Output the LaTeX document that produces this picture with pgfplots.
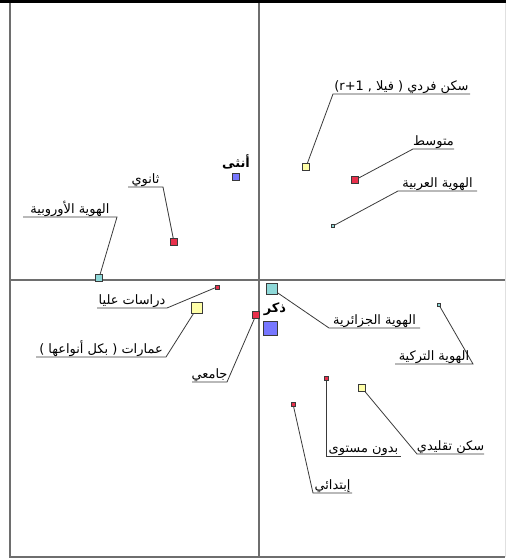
\documentclass[border=0pt]{standalone}
\usepackage{fontspec}
\usepackage{pgfplots}
\pgfplotsset{compat=1.18}
\setmainfont{Liberation Sans}
\newfontfamily\ar[Script=Arabic]{DejaVu Sans}
\TeXXeTstate=1

\definecolor{frame}{HTML}{6E6E6E}
\definecolor{leadc}{HTML}{3A3A3A}
\definecolor{cblue}{HTML}{7777FF}
\definecolor{cred}{HTML}{E8304C}
\definecolor{cteal}{HTML}{8ED8D8}
\definecolor{cyel}{HTML}{FFFFA8}

\tikzset{
  lab/.style={font=\ar\fontsize{13}{15}\selectfont, anchor=base, inner sep=0pt},
  labb/.style={font=\ar\bfseries\fontsize{13}{15}\selectfont, anchor=base, inner sep=0pt},
}

% marker groups: x, y, half side
\pgfplotstableread{
x y s
-23 103 3.5
11 -48 7
}\blues
\pgfplotstableread{
x y s
-85 38 3.5
96 100 3.5
-3 -35 3.5
-42 -7 2
67 -98 2
34 -124 2
}\reds
\pgfplotstableread{
x y s
-160 2 3.5
74 54 1.5
13 -9 5.5
180 -25 1.5
}\teals
\pgfplotstableread{
x y s
47 113 3.5
-62 -28 5.5
103 -108 3.5
}\yellows

\begin{document}
\begin{tikzpicture}
\begin{axis}[
  width=506bp, height=558bp, scale only axis,
  xmin=-259, xmax=247, ymin=-278, ymax=280,
  hide axis, clip=false,
  leader/.style={leadc, line width=0.8bp, no marks},
  pts/.style={scatter, only marks, mark=square*,
    scatter/use mapped color={draw=leadc, fill=#1, line width=0.6bp},
    visualization depends on={\thisrow{s} \as \ms},
    scatter/@pre marker code/.append style={/tikz/mark size=\ms}},
]
% frame and the two principal axes
\fill[black] (axis cs:-259,277) rectangle (axis cs:247,280);
\draw[frame, line width=2bp] (axis cs:-249,277) -- (axis cs:-249,-277) -- (axis cs:246,-277);
\draw[black!12, line width=1bp] (axis cs:246,277) -- (axis cs:246,-277);
\draw[frame, line width=1.5bp] (axis cs:0,277) -- (axis cs:0,-277);
\draw[frame, line width=1.5bp] (axis cs:-249,0) -- (axis cs:246,0);

% leaders and underlines
\addplot[leader] coordinates {(-85,38) (-96,93) (-131,93)};
\addplot[leader] coordinates {(96,100) (154,131) (195,131)};
\addplot[leader] coordinates {(-3,-35) (-32,-102) (-67,-102)};
\addplot[leader] coordinates {(-42,-7) (-92,-28) (-162,-28)};
\addplot[leader] coordinates {(67,-98) (67,-176) (142,-176)};
\addplot[leader] coordinates {(34,-124) (54,-213) (93,-213)};
\addplot[leader] coordinates {(-160,2) (-142,63) (-236,63)};
\addplot[leader] coordinates {(74,54) (139,89) (218,89)};
\addplot[leader] coordinates {(13,-9) (70,-48) (161,-48)};
\addplot[leader] coordinates {(180,-25) (214,-84) (136,-84)};
\addplot[leader] coordinates {(47,113) (74,186) (211,186)};
\addplot[leader] coordinates {(-62,-28) (-93,-77) (-223,-77)};
\addplot[leader] coordinates {(103,-108) (158,-174) (225,-174)};

% points
\addplot[pts=cblue] table {\blues};
\addplot[pts=cred] table {\reds};
\addplot[pts=cteal] table {\teals};
\addplot[pts=cyel] table {\yellows};

% labels
\node[labb] at (axis cs:-23,112) {\beginR أنثى\endR};
\node[labb] at (axis cs:16,-33) {\beginR ذكر\endR};
\node[lab] at (axis cs:-113.5,96) {\beginR ثانوي\endR};
\node[lab] at (axis cs:174.5,134) {\beginR متوسط\endR};
\node[lab] at (axis cs:-49.5,-99) {\beginR جامعي\endR};
\node[lab] at (axis cs:-127,-25) {\beginR دراسات عليا\endR};
\node[lab] at (axis cs:104.5,-173) {\beginR بدون مستوى\endR};
\node[lab] at (axis cs:73.5,-210) {\beginR إبتدائي\endR};
\node[lab] at (axis cs:-189,66) {\beginR الهوية الأوروبية\endR};
\node[lab] at (axis cs:178.5,92) {\beginR الهوية العربية\endR};
\node[lab] at (axis cs:115.5,-45) {\beginR الهوية الجزائرية\endR};
\node[lab] at (axis cs:175,-81) {\beginR الهوية التركية\endR};
\node[lab] at (axis cs:142.5,189) {\beginR سكن فردي ( فيلا , \beginL r+1\endL)\endR};
\node[lab] at (axis cs:-158,-74) {\beginR عمارات ( بكل أنواعها )\endR};
\node[lab] at (axis cs:191.5,-171) {\beginR سكن تقليدي\endR};
\end{axis}
\end{tikzpicture}
\end{document}
